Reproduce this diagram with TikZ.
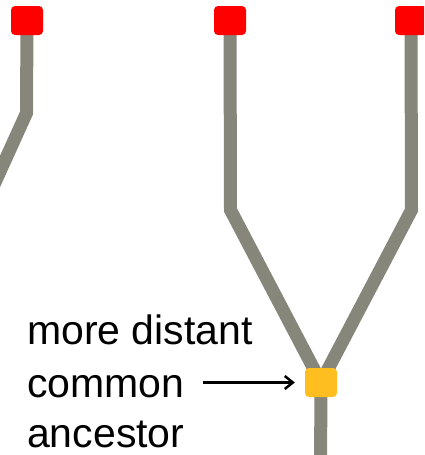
\documentclass[tikz,border=0pt]{standalone}
\usepackage{fontspec}
\setmainfont{Liberation Sans}
\usetikzlibrary{arrows.meta,backgrounds}
\definecolor{branch}{RGB}{134,134,122}
\definecolor{leafred}{RGB}{255,0,0}
\definecolor{ancyellow}{RGB}{255,190,32}
\begin{document}
\begin{tikzpicture}[x=1pt,y=-1pt,
  leaf/.style={rectangle,rounded corners=4pt,fill=leafred,minimum width=32pt,minimum height=29pt,inner sep=0pt},
  ancbox/.style={rectangle,rounded corners=4pt,fill=ancyellow,minimum width=32pt,minimum height=29pt,inner sep=0pt},
  lineage/.style={draw=branch,line width=13pt,line join=miter},
  lbl/.style={anchor=base west,inner sep=0pt,font=\fontsize{41}{51}\selectfont},
  pointer/.style={draw=black,line width=3pt,-{Straight Barb[length=8pt,width=13pt,line width=2.5pt]}}]
\useasboundingbox (0,0) rectangle (424,455);
\clip (0,0) rectangle (424,455);
% nodes
\node[leaf] (leafA) at (27,20.5) {};
\node[leaf] (leafB) at (230,20.5) {};
\node[leaf] (leafC) at (411,20.5) {};
\node[ancbox] (anc) at (321,382.5) {};
% bend points and free ends
\coordinate (lbend) at (26.5,113);
\coordinate (lend) at (-12,198);
\coordinate (mbend) at (230.5,210);
\coordinate (rbend) at (411.5,210);
\coordinate (bend) at (320.5,470);
% lineages behind the boxes
\begin{pgfonlayer}{background}
\draw[lineage] (leafA.center) -- (lbend) -- (lend);
\draw[lineage] (leafB.center) -- (mbend) -- (anc.center);
\draw[lineage] (leafC.center) -- (rbend) -- (anc.center);
\draw[lineage] (anc.center) -- (bend);
\end{pgfonlayer}
% text
\node[lbl] (more) at (27,344) {more distant};
\node[lbl] (common) at (27,397) {common};
\node[lbl] (ancestor) at (27,447) {ancestor};
\draw[pointer,shorten <=18pt,shorten >=10pt] (anc -| common.east) -- (anc.west);
\end{tikzpicture}
\end{document}
